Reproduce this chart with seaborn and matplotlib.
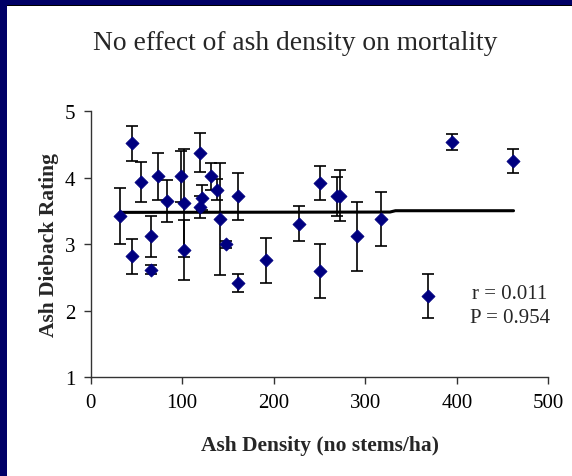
import numpy as np
import pandas as pd
import matplotlib
matplotlib.use('Agg')
import matplotlib.pyplot as plt
from matplotlib.patches import Rectangle
import seaborn as sns

# ash density (stems/ha) vs mean dieback rating, with error bar half-widths
density = [32, 45, 45, 55, 66, 66, 73, 83, 99, 102, 102, 119, 119, 122, 131, 138,
           141, 148, 161, 161, 192, 228, 251, 251, 269, 272, 291, 317, 369, 395, 461]
rating = [3.42, 4.52, 2.82, 3.94, 3.12, 2.62, 4.02, 3.65, 4.02, 3.62, 2.91, 4.38, 3.56, 3.70, 4.02, 3.82,
          3.38, 3.00, 3.72, 2.42, 2.76, 3.31, 3.92, 2.60, 3.72, 3.73, 3.12, 3.38, 2.22, 4.54, 4.25]
err = [0.42, 0.26, 0.26, 0.30, 0.31, 0.065, 0.36, 0.31, 0.38, 0.81, 0.45, 0.29, 0.16, 0.19, 0.20, 0.16,
       0.84, 0.05, 0.35, 0.14, 0.34, 0.26, 0.26, 0.40, 0.29, 0.38, 0.52, 0.41, 0.33, 0.12, 0.18]

# fitted trend line
trend_x = [32, 327, 333, 462]
trend_y = [3.48, 3.485, 3.505, 3.505]

df = pd.DataFrame({'density': density, 'rating': rating, 'err': err})
trend = pd.DataFrame({'x': trend_x, 'y': trend_y})

sns.set_style('ticks')
plt.rcParams['font.family'] = ['Liberation Serif', 'DejaVu Serif']

fig = plt.figure(figsize=(5.72, 4.77), dpi=100)
fig.patch.set_facecolor('white')
navy = '#000066'
fig.patches.append(Rectangle((0, 1 - 6 / 477), 1, 6 / 477, transform=fig.transFigure,
                             facecolor=navy, edgecolor='none', zorder=0))
fig.patches.append(Rectangle((0, 1 - 7 / 477), 1, 1.2 / 477, transform=fig.transFigure,
                             facecolor='black', edgecolor='none', zorder=0))
fig.patches.append(Rectangle((0, 0), 7 / 572, 1, transform=fig.transFigure,
                             facecolor=navy, edgecolor='none', zorder=0))

ax = fig.add_axes([90.7 / 572, 1 - 378.3 / 477, 457.6 / 572, 266 / 477])

ax.errorbar(df['density'], df['rating'], yerr=df['err'], fmt='none', ecolor='black',
            elinewidth=1.2, capsize=4, capthick=1.2, zorder=2)
sns.lineplot(data=trend, x='x', y='y', ax=ax, color='black', linewidth=2.2, zorder=3)
sns.scatterplot(data=df, x='density', y='rating', ax=ax, marker='D', s=45,
                color='#000080', edgecolor='#000080', linewidth=0.5, zorder=4)

ax.set_xlim(0, 500)
ax.set_ylim(1, 5)
ax.set_xticks([0, 100, 200, 300, 400, 500])
ax.set_yticks([1, 2, 3, 4, 5])
ax.tick_params(axis='both', direction='out', length=5, width=1, colors='#333333',
               labelsize=15, labelcolor='black', pad=6)
for s in ['top', 'right']:
    ax.spines[s].set_visible(False)
for s in ['left', 'bottom']:
    ax.spines[s].set_color('#333333')
    ax.spines[s].set_linewidth(1)

ax.set_xlabel('Ash Density (no stems/ha)', fontsize=15.5, fontweight='bold', labelpad=17)
ax.set_ylabel('Ash Dieback Rating', fontsize=15.5, fontweight='bold', labelpad=4)

fig.text(0.516, 1 - 43 / 477, 'No effect of ash density on mortality', ha='center', va='center',
         fontsize=19.8)
ax.text(0.916, 0.27, 'r = 0.011\nP = 0.954', transform=ax.transAxes, ha='center', va='center',
        fontsize=15, linespacing=1.35)

plt.savefig('out.png', dpi=100, facecolor=fig.get_facecolor())
plt.close()
